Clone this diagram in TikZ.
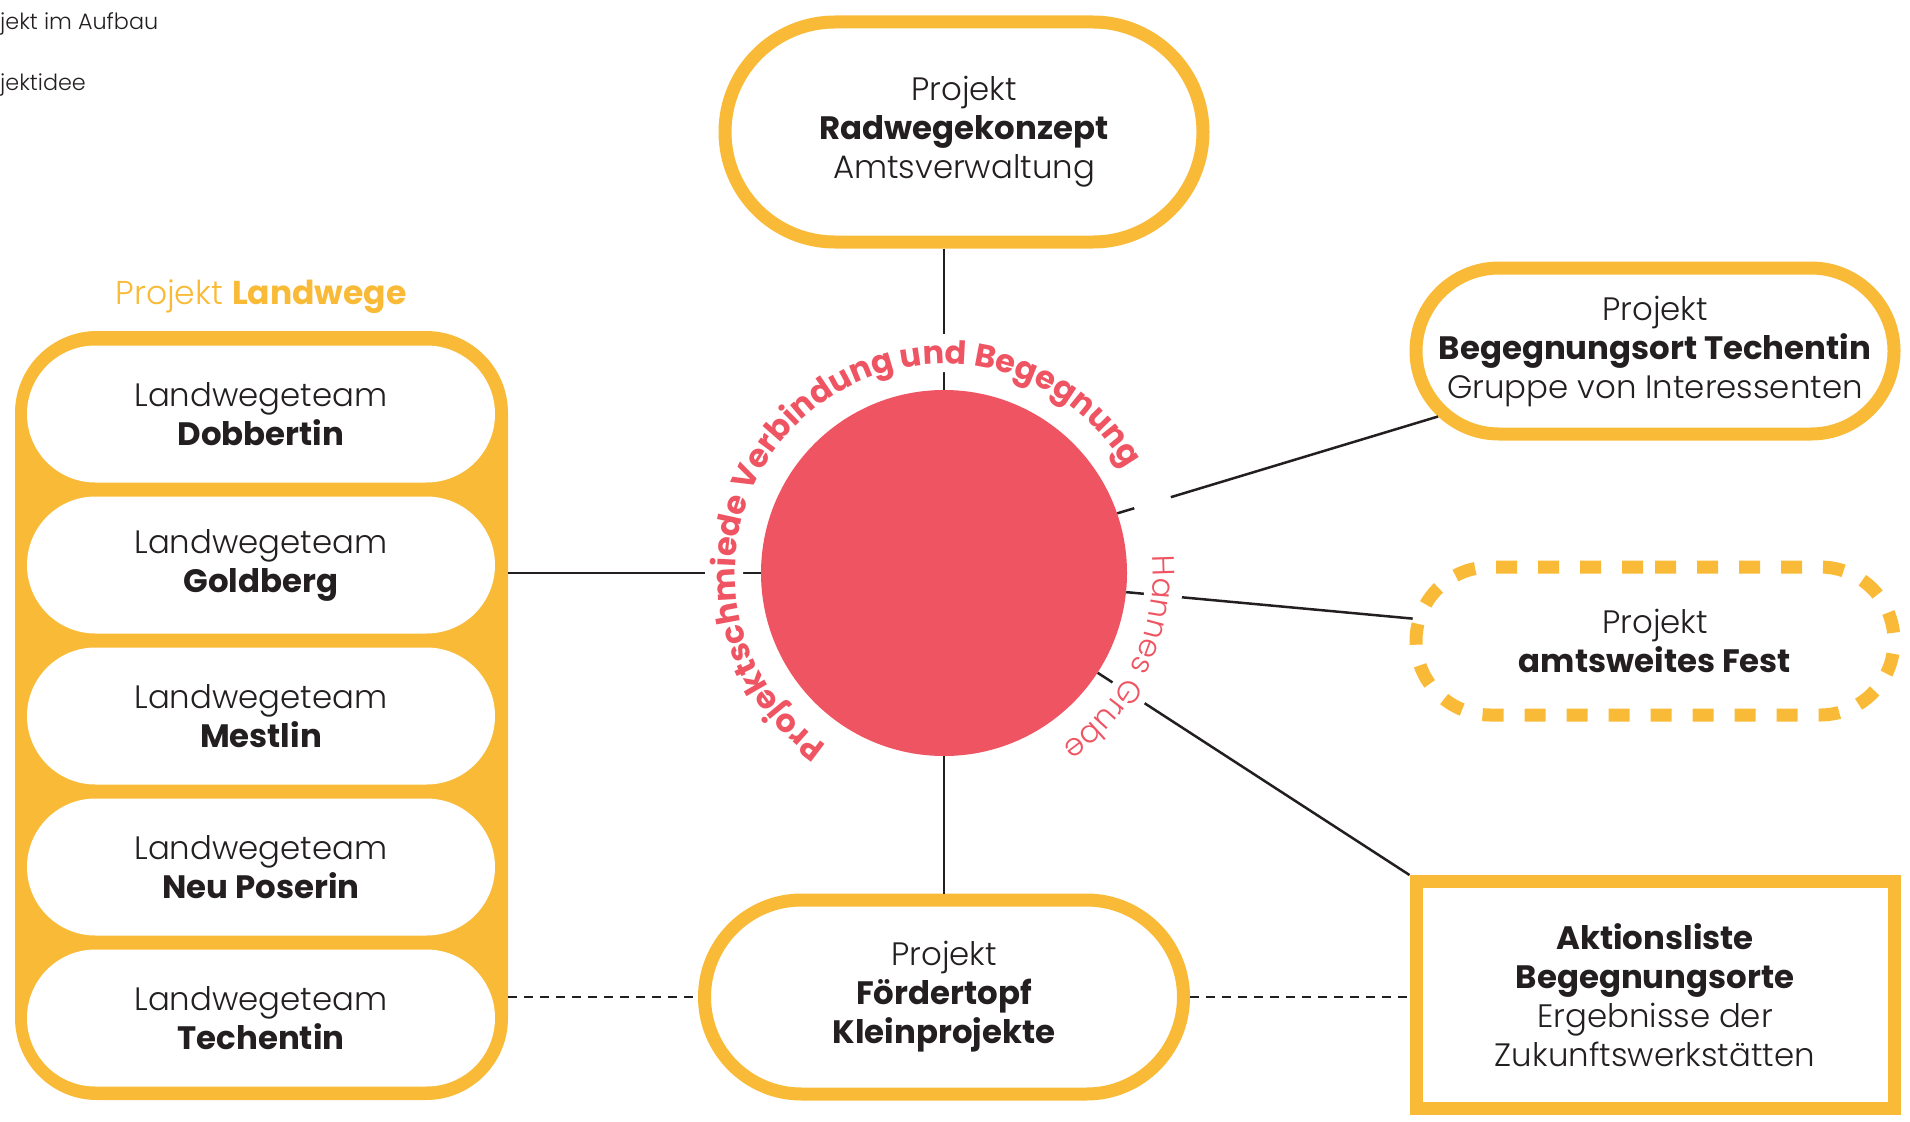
\documentclass[tikz,border=0pt]{standalone}
\usepackage{fontspec}
\setmainfont{Poppins}[UprightFont={* Light},BoldFont={* Bold}]
\usetikzlibrary{shapes.misc,decorations.text}
\definecolor{ylw}{RGB}{249,187,55}
\definecolor{rd}{RGB}{239,84,98}
\definecolor{ink}{RGB}{35,31,32}
\tikzset{
  base/.style={align=center, text=ink, inner sep=0pt, font=\fontsize{32.4}{39}\selectfont},
  pill/.style={base, rounded rectangle, draw=ylw, line width=13pt, fill=white},
  festbox/.style={pill, dash pattern=on 21pt off 21pt},
  boxnode/.style={base, rectangle, draw=ylw, line width=13pt, fill=white},
  team/.style={base, rounded rectangle, fill=white, minimum width=468pt, minimum height=137pt},
  link/.style={draw=ink, line width=2.5pt},
  dlink/.style={draw=ink, line width=2pt, dash pattern=on 9pt off 7pt},
}
\begin{document}
\begin{tikzpicture}[x=1pt,y=1pt]
\useasboundingbox (0,0) rectangle (1910,-1121);
\node[base, anchor=base west, font=\fontsize{22.3}{24}\selectfont] (leg1) at (0,-30) {jekt im Aufbau};
\node[base, anchor=base west, font=\fontsize{22.3}{24}\selectfont] (leg2) at (0,-91) {jektidee};

\node[pill, minimum width=478pt, minimum height=220pt] (rad) at (964,-132) {Projekt\\\textbf{Radwegekonzept}\\Amtsverwaltung};
\node[pill, minimum width=478pt, minimum height=166pt] (beg) at (1655,-351) {Projekt\\\textbf{Begegnungsort Techentin}\\Gruppe von Interessenten};
\node[festbox, minimum width=478pt, minimum height=148pt] (fest) at (1655,-641) {Projekt\\\textbf{amtsweites Fest}};
\node[boxnode, minimum width=478pt, minimum height=227pt] (akt) at (1655,-995) {\textbf{Aktionsliste}\\\textbf{Begegnungsorte}\\Ergebnisse der\\Zukunftswerkstätten};
\node[pill, minimum width=479pt, minimum height=194pt] (foer) at (944,-997) {Projekt\\\textbf{Fördertopf}\\\textbf{Kleinprojekte}};

\node[fill=ylw, rounded corners=82pt, minimum width=493pt, minimum height=769pt, inner sep=0pt] (grp) at (261.5,-715.5) {};
\node[base, text=ylw, font=\fontsize{33}{39}\selectfont] (lw) at (261,-297) {Projekt \textbf{Landwege}};
\node[team] (t1) at (261,-414) {Landwegeteam\\\textbf{Dobbertin}};
\node[team] (t2) at (261,-565) {Landwegeteam\\\textbf{Goldberg}};
\node[team] (t3) at (261,-716) {Landwegeteam\\\textbf{Mestlin}};
\node[team] (t4) at (261,-867) {Landwegeteam\\\textbf{Neu Poserin}};
\node[team] (t5) at (261,-1018) {Landwegeteam\\\textbf{Techentin}};

\node[circle, fill=rd, minimum size=366pt, inner sep=0pt] (circ) at (944,-573) {};

\draw[link] (rad.south -| circ.north) -- (circ.north);
\draw[link] (circ.west) -- (circ.west -| grp.east);
\draw[link] (circ.19) -- (beg);
\draw[link] (circ.-6) -- (fest);
\draw[link] (circ.-33) -- (akt.north west);
\draw[white, line width=38pt] (circ.center) circle[radius=220pt];
\draw[link] (circ.south) -- (circ.south |- foer.north);
\draw[dlink] (foer.west -| grp.east) -- (foer.west);
\draw[dlink] (foer.east) -- (foer.east -| akt.west);

\path[decorate, decoration={text along path, text={|\fontsize{32}{33}\selectfont\bfseries|Projektschmiede Verbindung und Begegnung}, text align=center, text color=rd}]
  ([shift={(234.5:209pt)}]circ.center) arc[start angle=234.5, end angle=31, radius=209pt];
\path[decorate, decoration={text along path, text={|\fontsize{31}{33}\selectfont|Hannes Grube}, text align=center, text color=rd}]
  ([shift={(5:209pt)}]circ.center) arc[start angle=5, end angle=-56, radius=209pt];
\end{tikzpicture}
\end{document}
